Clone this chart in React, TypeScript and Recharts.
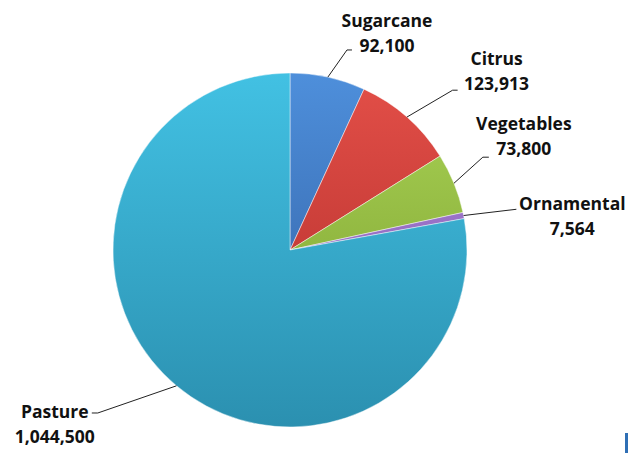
import React from "react";
import { PieChart, Pie, Cell } from "recharts";

// land use (acres)
const categories = ["Sugarcane", "Citrus", "Vegetables", "Ornamental", "Pasture"];
const acres = [92100, 123913, 73800, 7564, 1044500];

// fill shading per slice: [top, bottom]
const shades = [
  ["#4e8fdb", "#2e5a9c"],
  ["#e34f48", "#ad2b28"],
  ["#aad456", "#789a2b"],
  ["#a883d4", "#8459b4"],
  ["#42c1e3", "#2b90b0"],
];

// leader line / label placement, relative to the pie centre
const labelLayout = [
  { r: 208, a: 74.1, tick: 5, dx: 40, ty: -23 },
  { r: 228, a: 44.5, tick: 5, dx: 44, ty: -25 },
  { r: 214, a: 25.7, tick: 6, dx: 41, ty: -27 },
  { r: 230, a: 10.2, tick: 0, dx: 56, ty: 1 },
  { r: 252, a: -139.7, tick: -6, dx: -43, ty: 5 },
];

const data = categories.map((name, i) => ({ name, value: acres[i] }));

const RAD = Math.PI / 180;
const polar = (cx: number, cy: number, r: number, a: number) => ({
  x: cx + r * Math.cos(a * RAD),
  y: cy - r * Math.sin(a * RAD),
});

const labelFont = {
  fontFamily: "'Open Sans', sans-serif",
  fontWeight: "bold" as const,
  fontSize: 17.5,
  fill: "#111",
};

const renderLabel = (props: any) => {
  const { cx, cy, midAngle, outerRadius, index, name, value } = props;
  const lay = labelLayout[index];
  const start = polar(cx, cy, outerRadius, midAngle);
  const elbow = polar(cx, cy, lay.r, lay.a);
  const tx = elbow.x + lay.dx;
  const y1 = elbow.y + lay.ty;
  return (
    <g key={`lbl-${index}`}>
      <polyline
        points={`${start.x},${start.y} ${elbow.x},${elbow.y} ${elbow.x + lay.tick},${elbow.y}`}
        fill="none"
        stroke="#222"
        strokeWidth={1}
      />
      <text x={tx} y={y1} textAnchor="middle" {...labelFont}>
        {name}
      </text>
      <text x={tx} y={y1 + 25} textAnchor="middle" {...labelFont}>
        {Number(value).toLocaleString("en-US")}
      </text>
    </g>
  );
};

export default function App() {
  return (
    <div style={{ position: "absolute", left: 0, top: 0, width: 628, height: 453, background: "#fff" }}>
      <PieChart width={628} height={453} margin={{ top: 0, right: 0, bottom: 0, left: 0 }}>
        <defs>
          {shades.map((s, i) => (
            <linearGradient key={i} id={`shade${i}`} gradientUnits="userSpaceOnUse" x1="0" y1="73" x2="0" y2="427">
              <stop offset="0%" stopColor={s[0]} />
              <stop offset="100%" stopColor={s[1]} />
            </linearGradient>
          ))}
        </defs>
        <Pie
          data={data}
          dataKey="value"
          nameKey="name"
          cx={290}
          cy={250}
          outerRadius={177}
          startAngle={90}
          endAngle={-270}
          stroke="rgba(255,255,255,0.45)"
          strokeWidth={1}
          label={renderLabel}
          labelLine={false}
          isAnimationActive={false}
        >
          {data.map((d, i) => (
            <Cell key={d.name} fill={`url(#shade${i})`} />
          ))}
        </Pie>
      </PieChart>
      {/* clipped logo fragment at the bottom-right corner */}
      <div style={{ position: "absolute", left: 625, top: 433, width: 3, height: 20, background: "#2f6fb5" }} />
    </div>
  );
}
